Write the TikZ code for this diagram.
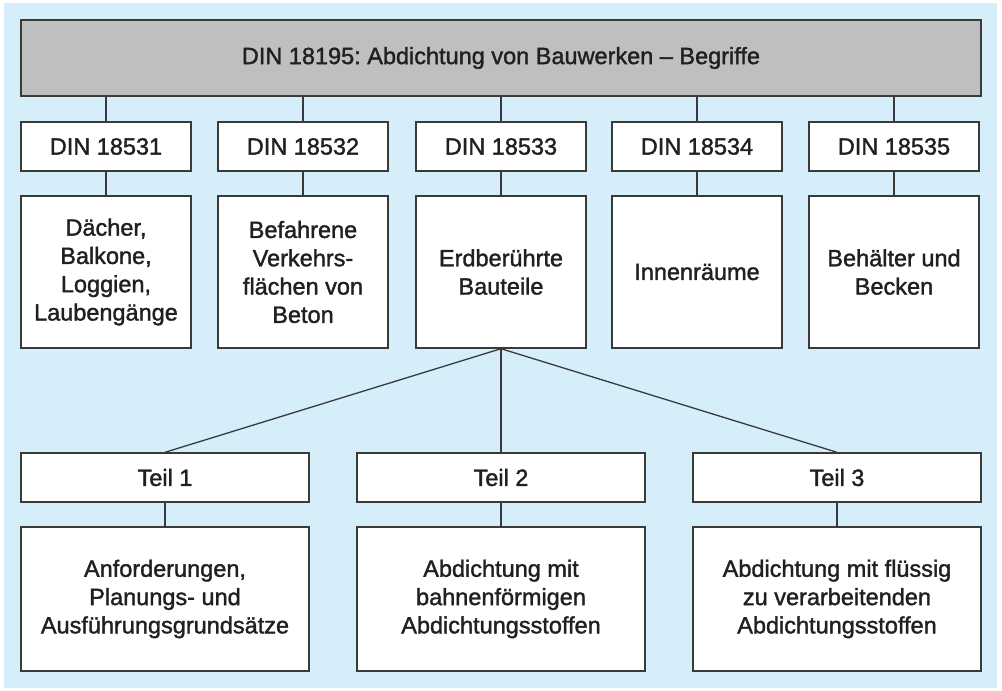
\documentclass[tikz,border=0pt]{standalone}
\usepackage{fontspec}
\setmainfont[FakeBold=1.5]{Liberation Sans}
\frenchspacing
\definecolor{bgblue}{HTML}{D5EEFA}
\definecolor{hdgray}{HTML}{BEBFC1}
\definecolor{edge}{HTML}{3A3A3A}
\definecolor{ink}{HTML}{231F20}
\begin{document}
\begin{tikzpicture}[x=1pt,y=-1pt,
  box/.style={draw=edge, line width=1.4pt, fill=white, inner sep=0pt, align=center,
    text=ink, font=\fontsize{23.5}{28.3}\selectfont},
  head/.style={box, fill=hdgray, minimum width=960pt, minimum height=76pt},
  dinbox/.style={box, minimum width=170pt, minimum height=49pt},
  topicbox/.style={box, minimum width=170pt, minimum height=152pt},
  teilbox/.style={box, minimum width=288pt, minimum height=49pt},
  descbox/.style={box, minimum width=288pt, minimum height=144pt},
  link/.style={draw=edge, line width=1.3pt}]
\useasboundingbox (0,0) rectangle (1002,691);
\fill[white] (0,0) rectangle (1002,691);
\fill[bgblue] (4,3) rectangle (997,688);

\node[head] (top) at (501,58) {DIN 18195: Abdichtung von Bauwerken -- Begriffe};

\node[dinbox] (d1) at (106,146.5) {DIN 18531};
\node[dinbox] (d2) at (303,146.5) {DIN 18532};
\node[dinbox] (d3) at (501,146.5) {DIN 18533};
\node[dinbox] (d4) at (697,146.5) {DIN 18534};
\node[dinbox] (d5) at (894,146.5) {DIN 18535};

\node[topicbox] (t1) at (106,272) {Dächer,\\Balkone,\\Loggien,\\Laubengänge};
\node[topicbox] (t2) at (303,272) {Befahrene\\Verkehrs-\\flächen von\\Beton};
\node[topicbox] (t3) at (501,272) {Erdberührte\\Bauteile};
\node[topicbox] (t4) at (697,272) {Innenräume};
\node[topicbox] (t5) at (894,272) {Behälter und\\Becken};

\node[teilbox] (p1) at (165,477.5) {Teil 1};
\node[teilbox] (p2) at (501,477.5) {Teil 2};
\node[teilbox] (p3) at (837,477.5) {Teil 3};

\node[descbox] (b1) at (165,599) {Anforderungen,\\Planungs- und\\Ausführungsgrundsätze};
\node[descbox] (b2) at (501,599) {Abdichtung mit\\bahnenförmigen\\Abdichtungsstoffen};
\node[descbox] (b3) at (837,599) {Abdichtung mit flüssig\\zu verarbeitenden\\Abdichtungsstoffen};

\foreach \i in {1,...,5}{
  \draw[link] (top.south -| d\i.north) -- (d\i.north);
  \draw[link] (d\i.south) -- (t\i.north);
}
\draw[link] (t3.south) -- (p1.north);
\draw[link] (t3.south) -- (p2.north);
\draw[link] (t3.south) -- (p3.north);
\foreach \i in {1,2,3}{
  \draw[link] (p\i.south) -- (b\i.north);
}
\end{tikzpicture}
\end{document}
